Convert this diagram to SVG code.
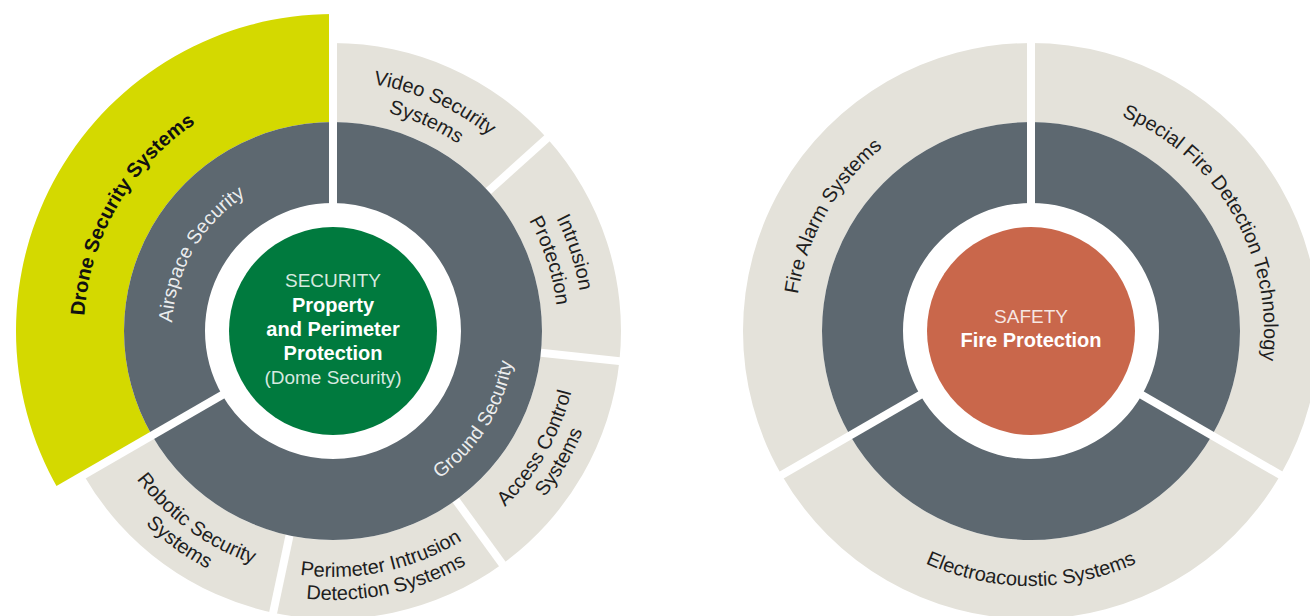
<svg xmlns="http://www.w3.org/2000/svg" width="1310" height="616" viewBox="0 0 1310 616">
<style>
.beige{fill:#e4e2da}
.dark{fill:#5d6870}
.drone{fill:#d4d900}
.gap{stroke:#ffffff;stroke-width:8;fill:none}
.lbl{font-family:"Liberation Sans",Arial,sans-serif;font-size:20px;fill:#1e1e1e}
.wlbl{font-family:"Liberation Sans",Arial,sans-serif;font-size:19.5px;fill:#ffffff;fill-opacity:0.9}
.bold{font-weight:bold}
.ctr{font-family:"Liberation Sans",Arial,sans-serif;font-size:20px;fill:#ffffff;text-anchor:middle}
.light{font-size:19px;fill-opacity:0.85}
</style>
<defs>
<path id="pDrone" d="M117.36,455.5 A249,249 0 0 1 333,82"/>
<path id="pAir" d="M193.57,411.5 A161,161 0 0 1 333,170"/>
<path id="pVid1" d="M186.05,128.75 A250,250 0 0 1 581.63,304.87"/>
<path id="pVid2" d="M200.75,148.97 A225,225 0 0 1 556.77,307.48"/>
<path id="pInt1" d="M384.98,86.46 A250,250 0 0 1 518.79,498.28"/>
<path id="pInt2" d="M379.78,110.92 A225,225 0 0 1 500.21,481.55"/>
<path id="pAcc1" d="M333,577 A246,246 0 0 0 546.04,208"/>
<path id="pAcc2" d="M333,600 A269,269 0 0 0 565.96,196.5"/>
<path id="pPer1" d="M150.19,495.61 A246,246 0 0 0 566.96,407.02"/>
<path id="pPer2" d="M133.10,511.0 A269,269 0 0 0 588.83,414.13"/>
<path id="pRob1" d="M88.35,305.29 A246,246 0 0 0 433.06,555.73"/>
<path id="pRob2" d="M65.47,302.88 A269,269 0 0 0 442.41,576.74"/>
<path id="pGnd" d="M326.65,512.89 A182,182 0 0 0 493.70,245.56"/>
<path id="pFire" d="M826.62,449 A236,236 0 0 1 1031,95"/>
<path id="pSpec" d="M1031,98 A233,233 0 0 1 1232.78,447.5"/>
<path id="pElec" d="M810.16,458.5 A255,255 0 0 0 1251.84,458.5"/>
</defs>

<g id="security">
  <g id="video-security-systems">
    <path class="beige" d="M333,43 A288,288 0 0 1 547.02,138.29 L488.32,191.15 A209,209 0 0 0 333,122 Z"/>
    <text class="lbl"><textPath href="#pVid1" startOffset="50%" text-anchor="middle">Video Security</textPath></text>
    <text class="lbl"><textPath href="#pVid2" startOffset="50%" text-anchor="middle">Systems</textPath></text>
  </g>
  <g id="intrusion-protection">
    <path class="beige" d="M547.02,138.29 A288,288 0 0 1 619.42,361.10 L540.85,352.85 A209,209 0 0 0 488.32,191.15 Z"/>
    <text class="lbl"><textPath href="#pInt1" startOffset="50%" text-anchor="middle">Intrusion</textPath></text>
    <text class="lbl"><textPath href="#pInt2" startOffset="50%" text-anchor="middle">Protection</textPath></text>
  </g>
  <g id="access-control-systems">
    <path class="beige" d="M619.42,361.10 A288,288 0 0 1 502.28,564 L455.85,500.09 A209,209 0 0 0 540.85,352.85 Z"/>
    <text class="lbl"><textPath href="#pAcc1" startOffset="50%" text-anchor="middle">Access Control</textPath></text>
    <text class="lbl"><textPath href="#pAcc2" startOffset="50%" text-anchor="middle">Systems</textPath></text>
  </g>
  <g id="perimeter-intrusion-detection-systems">
    <path class="beige" d="M502.28,564 A288,288 0 0 1 273.12,612.71 L289.55,535.43 A209,209 0 0 0 455.85,500.09 Z"/>
    <text class="lbl"><textPath href="#pPer1" startOffset="50%" text-anchor="middle">Perimeter Intrusion</textPath></text>
    <text class="lbl"><textPath href="#pPer2" startOffset="50%" text-anchor="middle">Detection Systems</textPath></text>
  </g>
  <g id="robotic-security-systems">
    <path class="beige" d="M273.12,612.71 A288,288 0 0 1 83.58,475 L152,435.5 A209,209 0 0 0 289.55,535.43 Z"/>
    <text class="lbl"><textPath href="#pRob1" startOffset="50%" text-anchor="middle">Robotic Security</textPath></text>
    <text class="lbl"><textPath href="#pRob2" startOffset="50%" text-anchor="middle">Systems</textPath></text>
  </g>
  <g id="drone-security-systems">
    <path class="drone" d="M333,14 A317,317 0 0 0 58.47,489.5 L152,435.5 A209,209 0 0 1 333,122 Z"/>
    <text class="lbl bold" style="fill:#111"><textPath href="#pDrone" startOffset="50%" text-anchor="middle">Drone Security Systems</textPath></text>
  </g>
  <g id="security-gaps-outer">
    <line class="gap" x1="488.32" y1="191.15" x2="555.94" y2="130.26"/>
    <line class="gap" x1="540.85" y1="352.85" x2="631.36" y2="362.36"/>
    <line class="gap" x1="455.85" y1="500.09" x2="509.34" y2="573.71"/>
    <line class="gap" x1="289.55" y1="535.43" x2="270.63" y2="624.45"/>
  </g>
  <g id="airspace-security">
    <path class="dark" d="M333,122 A209,209 0 0 0 152,435.5 L222.15,395 A128,128 0 0 1 333,203 Z"/>
    <text class="wlbl"><textPath href="#pAir" startOffset="50%" text-anchor="middle">Airspace Security</textPath></text>
  </g>
  <g id="ground-security">
    <path class="dark" d="M333,122 A209,209 0 1 1 152,435.5 L222.15,395 A128,128 0 1 0 333,203 Z"/>
    <text class="wlbl"><textPath href="#pGnd" startOffset="50%" text-anchor="middle">Ground Security</textPath></text>
  </g>
  <g id="security-gaps-main">
    <line class="gap" x1="333" y1="221" x2="333" y2="1"/>
    <line class="gap" x1="237.74" y1="386" x2="47.21" y2="496"/>
  </g>
  <g id="security-center">
    <circle cx="333" cy="331" r="104" fill="#007a3e"/>
    <text class="ctr light" x="333" y="287">SECURITY</text>
    <text class="ctr bold" x="333" y="312">Property</text>
    <text class="ctr bold" x="333" y="336">and Perimeter</text>
    <text class="ctr bold" x="333" y="360">Protection</text>
    <text class="ctr light" x="333" y="384">(Dome Security)</text>
  </g>
</g>

<g id="safety">
  <g id="fire-alarm-systems">
    <path class="beige" d="M1031,43 A288,288 0 0 0 781.58,475 L850,435.5 A209,209 0 0 1 1031,122 Z"/>
    <text class="lbl"><textPath href="#pFire" startOffset="50%" text-anchor="middle">Fire Alarm Systems</textPath></text>
  </g>
  <g id="special-fire-detection-technology">
    <path class="beige" d="M1031,43 A288,288 0 0 1 1280.42,475 L1212,435.5 A209,209 0 0 0 1031,122 Z"/>
    <text class="lbl"><textPath href="#pSpec" startOffset="50%" text-anchor="middle">Special Fire Detection Technology</textPath></text>
  </g>
  <g id="electroacoustic-systems">
    <path class="beige" d="M1280.42,475 A288,288 0 0 1 781.58,475 L850,435.5 A209,209 0 0 0 1212,435.5 Z"/>
    <text class="lbl"><textPath href="#pElec" startOffset="50%" text-anchor="middle">Electroacoustic Systems</textPath></text>
  </g>
  <g id="safety-ring">
    <path class="dark" d="M1031,122 A209,209 0 0 0 850,435.5 L920.15,395 A128,128 0 0 1 1031,203 Z"/>
    <path class="dark" d="M1031,122 A209,209 0 0 1 1212,435.5 L1141.85,395 A128,128 0 0 0 1031,203 Z"/>
    <path class="dark" d="M1212,435.5 A209,209 0 0 1 850,435.5 L920.15,395 A128,128 0 0 0 1141.85,395 Z"/>
  </g>
  <g id="safety-gaps">
    <line class="gap" x1="1031" y1="221" x2="1031" y2="1"/>
    <line class="gap" x1="1126.26" y1="386" x2="1316.79" y2="496"/>
    <line class="gap" x1="935.74" y1="386" x2="745.21" y2="496"/>
  </g>
  <g id="safety-center">
    <circle cx="1031" cy="331" r="104" fill="#c9674b"/>
    <text class="ctr light" x="1031" y="323">SAFETY</text>
    <text class="ctr bold" x="1031" y="347">Fire Protection</text>
  </g>
</g>
</svg>
